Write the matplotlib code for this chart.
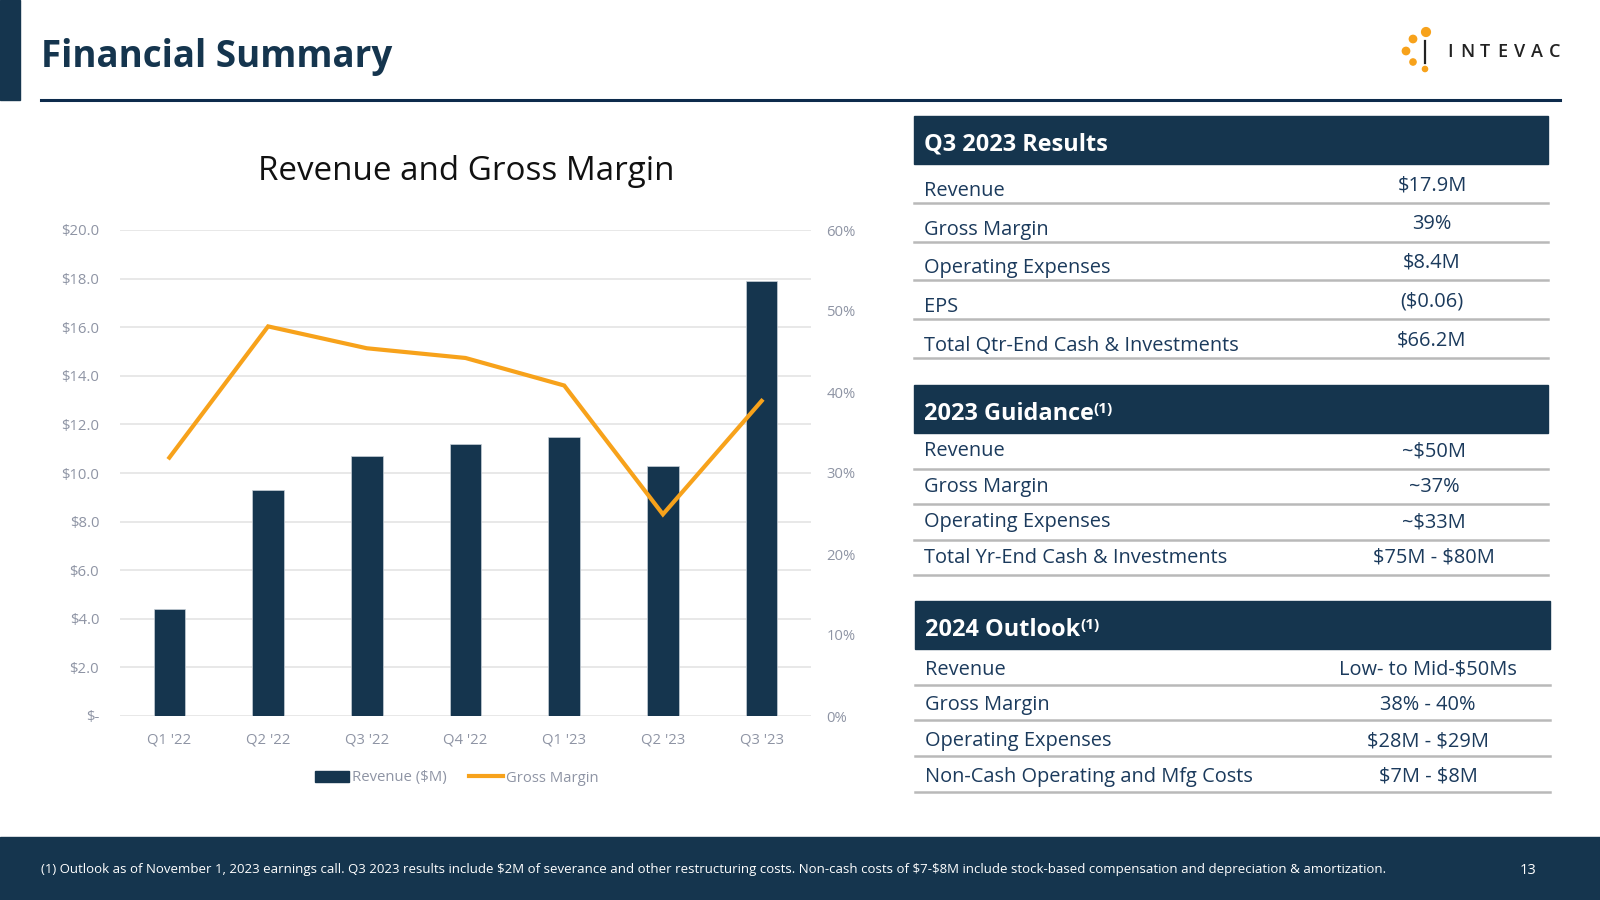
import numpy as np
import matplotlib.pyplot as plt
from matplotlib.patches import Rectangle
from matplotlib.lines import Line2D
from matplotlib.ticker import FuncFormatter

plt.rcParams['font.family'] = ['Open Sans', 'DejaVu Sans']
plt.rcParams['text.parse_math'] = False

# chart data
quarters = ["Q1 '22", "Q2 '22", "Q3 '22", "Q4 '22", "Q1 '23", "Q2 '23", "Q3 '23"]
revenue = [4.4, 9.3, 10.7, 11.2, 11.5, 10.3, 17.9]
gross_margin = [31.9, 48.1, 45.4, 44.2, 40.8, 24.9, 38.9]

# table data
q3_labels = ['Revenue', 'Gross Margin', 'Operating Expenses', 'EPS', 'Total Qtr-End Cash & Investments']
q3_values = ['$17.9M', '39%', '$8.4M', '($0.06)', '$66.2M']
g23_labels = ['Revenue', 'Gross Margin', 'Operating Expenses', 'Total Yr-End Cash & Investments']
g23_values = ['~$50M', '~37%', '~$33M', '$75M - $80M']
o24_labels = ['Revenue', 'Gross Margin', 'Operating Expenses', 'Non-Cash Operating and Mfg Costs']
o24_values = ['Low- to Mid-$50Ms', '38% - 40%', '$28M - $29M', '$7M - $8M']

footnote = ('(1) Outlook as of November 1, 2023 earnings call. Q3 2023 results include $2M of severance '
            'and other restructuring costs. Non-cash costs of $7-$8M include stock-based compensation '
            'and depreciation & amortization.')

navy = '#15354e'
orange = '#f7a21b'
grey_txt = '#8e94a4'
row_txt = '#1b3a5c'

fig = plt.figure(figsize=(16, 9), dpi=100)

# page overlay in pixel coordinates
pg = fig.add_axes([0, 0, 1, 1])
pg.set_xlim(0, 1600)
pg.set_ylim(900, 0)
pg.axis('off')

pg.add_patch(Rectangle((0, 0), 20, 100, color=navy))
pg.text(41, 57, 'Financial Summary', fontsize=26.5, fontweight='bold', color=navy, va='center')
pg.plot([41, 1560], [100, 100], color='#0d2b4c', lw=2.2)

# logo
pg.scatter([1426, 1413, 1406, 1413, 1425], [32, 39, 51, 62, 69], s=[40, 28, 28, 20, 14], color=orange)
pg.plot([1425, 1425], [41, 63], color='#222222', lw=1.6)
for i, ch in enumerate('INTEVAC'):
    pg.text(1450 + i * 17.4, 52, ch, fontsize=13, fontweight='semibold', color='#222222', ha='center', va='center')

# footer
pg.add_patch(Rectangle((0, 837), 1600, 63, color=navy))
pg.text(41, 870, footnote, fontsize=9.55, color='white', va='center')
pg.text(1528, 870, '13', fontsize=10.5, color='white', va='center', ha='center')


def draw_table(x0, x1, top, title, labels, values, row_h, val_x, lab_off, val_off, sup=False):
    pg.add_patch(Rectangle((x0, top), x1 - x0, 48, color=navy))
    t = pg.text(x0 + 10, top + 29, title, fontsize=16.9, fontweight='bold', color='white', va='center')
    if sup:
        pg.annotate('(1)', xy=(1.0, 1.0), xycoords=t, fontsize=11, fontweight='bold',
                    color='white', ha='left', va='top')
    y = top + 48
    for lab, val in zip(labels, values):
        y += row_h
        pg.text(x0 + 10, y - lab_off, lab, fontsize=14.4, color=row_txt, va='center')
        pg.text(val_x, y - val_off, val, fontsize=14.4, color=row_txt, va='center', ha='center')
        pg.plot([x0, x1], [y, y], color='#b9b9b9', lw=1.8)


draw_table(914, 1548, 116, 'Q3 2023 Results', q3_labels, q3_values, 38.8, 1432, 12, 17.5)
draw_table(914, 1548, 385, '2023 Guidance', g23_labels, g23_values, 35.5, 1434, 17, 17, sup=True)
draw_table(915, 1550, 601, '2024 Outlook', o24_labels, o24_values, 35.7, 1428, 15, 15, sup=True)

# chart
fig.text(466 / 1600, 1 - 172 / 900, 'Revenue and Gross Margin', fontsize=23.9, color='#111111',
         ha='center', va='center')

ax = fig.add_axes([120 / 1600, 1 - 716 / 900, 691 / 1600, 486 / 900])
x = np.arange(len(quarters))
ax.bar(x, revenue, width=0.32, color=navy, edgecolor='#c8d0d8', linewidth=0.5, zorder=3)
ax.set_xlim(-0.5, len(quarters) - 0.5)
ax.set_ylim(0, 20)
ax.set_yticks(np.arange(0, 21, 2))
ax.yaxis.set_major_formatter(FuncFormatter(lambda v, p: '$-' if v == 0 else f'${v:.1f}'))
ax.set_xticks(x)
ax.set_xticklabels(quarters)
ax.grid(axis='y', color='#e2e2e2', lw=1.1, zorder=0)
for s in ax.spines.values():
    s.set_visible(False)
ax.tick_params(length=0, labelsize=10.7, labelcolor=grey_txt)
ax.tick_params(axis='y', pad=15)
ax.tick_params(axis='x', pad=12)

ax2 = ax.twinx()
ax2.plot(x, gross_margin, color=orange, lw=3, zorder=4, solid_joinstyle='miter')
ax2.set_ylim(0, 60)
ax2.set_yticks(np.arange(0, 61, 10))
ax2.yaxis.set_major_formatter(FuncFormatter(lambda v, p: f'{v:.0f}%'))
for s in ax2.spines.values():
    s.set_visible(False)
ax2.tick_params(length=0, labelsize=10.7, labelcolor=grey_txt, pad=11)

handles = [Rectangle((0, 0), 1, 1, color=navy),
           Line2D([0], [0], color=orange, lw=3)]
fig.legend(handles, ['Revenue ($M)', 'Gross Margin'], loc='center',
           bbox_to_anchor=(457 / 1600, 1 - 778 / 900), ncol=2, frameon=False,
           fontsize=10.7, labelcolor=grey_txt, handlelength=2.3, handletextpad=0.2,
           columnspacing=1.5)

fig.savefig('out.png', dpi=100)
